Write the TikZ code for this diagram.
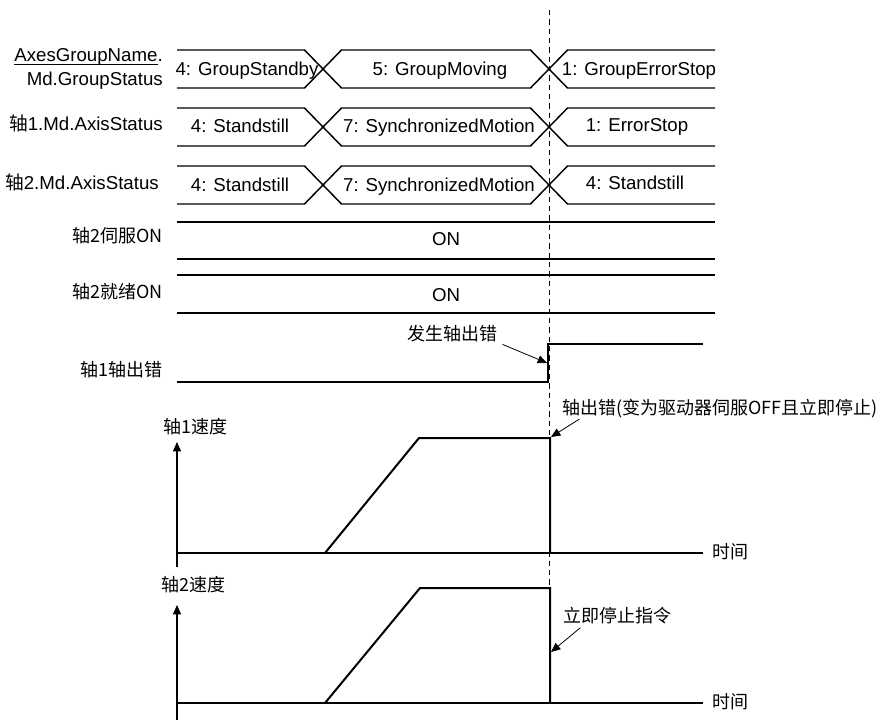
\documentclass[tikz,border=0pt]{standalone}
\usepackage{fontspec}
\setmainfont{Liberation Sans}
\newfontfamily\cjk{Noto Sans CJK SC}
\usetikzlibrary{arrows.meta}

\tikzset{
  sig/.style={line width=1.1pt},
  trace/.style={line width=1.5pt},
  axisline/.style={line width=0.9pt},
  tip/.style={-{Triangle[length=7pt,width=6pt]}},
  callout/.style={line width=0.6pt, tip},
  lbl/.style={inner sep=0pt, font=\fontsize{14}{18}\selectfont},
  zh/.style={inner sep=0pt, font=\cjk\fontsize{13.5}{16}\selectfont},
}

\begin{document}
\begin{tikzpicture}[x=0.75pt,y=-0.75pt]
  \useasboundingbox (0,0) rectangle (888,720);

  % status buses: change at 323 and 549
  \foreach \ya/\yb in {50/88, 108/146, 166/204}{
    \draw[sig] (177,\ya) -- (304.5,\ya) -- (341.5,\yb) -- (530.5,\yb) -- (567.5,\ya) -- (715,\ya);
    \draw[sig] (177,\yb) -- (304.5,\yb) -- (341.5,\ya) -- (530.5,\ya) -- (567.5,\yb) -- (715,\yb);
  }
  % servo / ready bands
  \foreach \y in {222, 259, 275, 313}
    \draw[sig] (177,\y) -- (715,\y);
  % error bit
  \draw[sig] (177,382) -- (548,382) -- (548,344) -- (703,344);

  % error instant
  \draw[line width=0.7pt, dash pattern=on 4pt off 3pt] (549,10) -- (549,588);

  % speed of axis 1
  \draw[axisline, tip] (177,567) -- (177,442);
  \draw[axisline] (177,553) -- (703,553);
  \draw[trace] (325,553) -- (419,438) -- (550,438) -- (550,553);
  % speed of axis 2
  \draw[axisline, tip] (177,720) -- (177,605);
  \draw[axisline] (177,703) -- (703,703);
  \draw[trace] (325,703) -- (420,588) -- (550,588) -- (550,703);

  \begin{scope}[every node/.style={lbl, anchor=base}]
    \node[anchor=base east, align=right] (grpname) at (163,86)
      {\underline{\smash{AxesGroupName}}.\\Md.GroupStatus};
    \node[anchor=base east] (ax1name) at (163,131) {{\cjk 轴}1.Md.AxisStatus};
    \node[anchor=base east] (ax2name) at (159,190) {{\cjk 轴}2.Md.AxisStatus};

    \node (grpstandby) at (247,76) {4: GroupStandby};
    \node (grpmoving)  at (440,76) {5: GroupMoving};
    \node (grperrstop) at (639,76) {1: GroupErrorStop};
    \node (ax1still)   at (240,133) {4: Standstill};
    \node (ax1sync)    at (439,133) {7: SynchronizedMotion};
    \node (ax1errstop) at (637,132) {1: ErrorStop};
    \node (ax2still)   at (240,192) {4: Standstill};
    \node (ax2sync)    at (439,192) {7: SynchronizedMotion};
    \node (ax2still2)  at (635,190) {4: Standstill};
    \node (servoon)    at (446,246) {ON};
    \node (readyon)    at (446,301) {ON};
  \end{scope}

  \begin{scope}[every node/.style={zh, anchor=base east}]
    \node (servolbl) at (163,243) {轴2伺服ON};
    \node (readylbl) at (163,298) {轴2就绪ON};
    \node (errlbl)   at (163,376) {轴1轴出错};
    \node (spd1lbl)  at (228,433) {轴1速度};
    \node (spd2lbl)  at (226,591) {轴2速度};
  \end{scope}

  \begin{scope}[every node/.style={zh, anchor=base west}]
    \node (time1)   at (712,558) {时间};
    \node (time2)   at (712,708) {时间};
    \node (stoplbl) at (562,414) {轴出错(变为驱动器伺服OFF且立即停止)};
    \node (cmdlbl)  at (563,622) {立即停止指令};
  \end{scope}
  \node[zh, anchor=base] (occurlbl) at (452,340) {发生轴出错};

  \coordinate (errtip) at (547,363);
  \coordinate (stoptip) at (551,437);
  \coordinate (cmdtip) at (551,652);
  \draw[callout] ([xshift=4pt,yshift=-2pt]occurlbl.south east) -- (errtip);
  \draw[callout] ([xshift=13pt,yshift=-1pt]stoplbl.south west) -- (stoptip);
  \draw[callout] ([xshift=13pt,yshift=-3pt]cmdlbl.south west) -- (cmdtip);
\end{tikzpicture}
\end{document}
